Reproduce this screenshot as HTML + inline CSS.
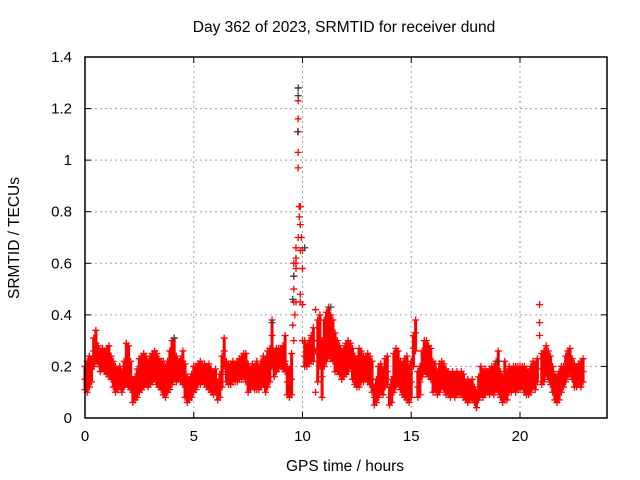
<!DOCTYPE html>
<html><head><meta charset="utf-8"><style>
html,body{margin:0;padding:0;background:#fff;}
svg{display:block;font-family:"Liberation Sans","DejaVu Sans",sans-serif;}
</style></head><body>
<svg id="chart" width="640" height="480" viewBox="0 0 640 480">
<text x="344" y="32" font-size="15.5" text-anchor="middle">Day 362 of 2023, SRMTID for receiver dund</text>
<text transform="translate(19,238) rotate(-90)" font-size="15.5" text-anchor="middle">SRMTID / TECUs</text>
<text x="345" y="471" font-size="15.5" text-anchor="middle">GPS time / hours</text>
<g id="grid"></g>
<g id="ticks"></g>
<g id="red"></g>
<g id="black"></g>
<rect x="85" y="57" width="522" height="361" fill="none" stroke="#000" stroke-width="1.5"/>
</svg>
<script>
const xTicks=[0,5,10,15,20];
const xTickLabels=["0","5","10","15","20"];
const yTicks=[0,0.2,0.4,0.6,0.8,1,1.2,1.4];
const yTickLabels=["0","0.2","0.4","0.6","0.8","1","1.2","1.4"];
const startHour=0, stepHour=0.1;
const redLo=[.11,.10,.12,.14,.20,.22,.21,.18,.19,.18,
.17,.16,.15,.12,.10,.11,.12,.10,.12,.13,
.12,.11,.06,.07,.08,.10,.11,.12,.13,.12,
.13,.14,.15,.13,.12,.11,.09,.08,.10,.11,
.13,.15,.14,.15,.14,.13,.08,.06,.07,.08,
.10,.11,.13,.13,.14,.13,.12,.11,.10,.09,
.10,.07,.08,.12,.20,.14,.13,.13,.14,.14,
.14,.15,.15,.16,.14,.10,.11,.12,.11,.11,
.11,.12,.13,.10,.12,.14,.20,.16,.18,.19,
.20,.19,.18,.09,.08,.09,.30,.45,.70,.45,
.30,.20,.20,.21,.22,.22,.10,.14,.20,.08,
.20,.22,.24,.23,.22,.18,.18,.17,.15,.16,
.17,.18,.20,.15,.13,.12,.12,.14,.14,.15,
.14,.13,.10,.05,.06,.08,.10,.09,.12,.13,
.05,.06,.10,.12,.13,.11,.09,.08,.07,.06,
.08,.20,.26,.08,.09,.16,.18,.17,.16,.15,
.10,.11,.09,.10,.12,.11,.09,.09,.08,.09,
.08,.09,.09,.09,.08,.07,.06,.07,.07,.06,
.04,.07,.09,.08,.09,.10,.09,.10,.09,.11,
.10,.08,.06,.07,.07,.10,.10,.11,.10,.11,
.11,.12,.10,.09,.09,.10,.12,.11,.14,.32,
.13,.14,.17,.15,.13,.10,.07,.06,.07,.10,
.12,.14,.16,.17,.15,.12,.12,.13,.12,.14];
const redMid=[.15,.14,.17,.19,.26,.29,.25,.22,.23,.22,
.21,.22,.19,.16,.14,.15,.15,.14,.16,.20,
.17,.15,.10,.11,.12,.15,.17,.18,.19,.17,
.18,.20,.21,.19,.17,.16,.15,.14,.16,.18,
.21,.24,.19,.18,.19,.22,.14,.10,.11,.12,
.14,.15,.17,.17,.18,.17,.16,.15,.14,.13,
.14,.10,.12,.17,.26,.18,.17,.17,.18,.17,
.18,.19,.19,.20,.21,.14,.15,.16,.15,.16,
.15,.17,.18,.15,.19,.22,.32,.21,.23,.24,
.23,.24,.22,.14,.12,.15,.45,.60,.97,.65,
.44,.24,.24,.25,.26,.30,.26,.30,.28,.16,
.28,.33,.35,.32,.30,.26,.24,.23,.21,.22,
.22,.24,.25,.21,.18,.17,.18,.20,.20,.19,
.19,.18,.15,.08,.10,.14,.15,.13,.17,.18,
.08,.10,.16,.20,.19,.16,.14,.13,.12,.10,
.14,.27,.33,.12,.14,.20,.23,.24,.22,.21,
.15,.15,.13,.15,.17,.16,.14,.13,.12,.13,
.12,.13,.12,.13,.12,.11,.10,.10,.11,.09,
.07,.11,.13,.13,.14,.14,.14,.15,.14,.16,
.18,.13,.11,.12,.12,.15,.14,.15,.15,.15,
.15,.16,.15,.14,.14,.15,.17,.16,.19,.37,
.19,.21,.24,.22,.19,.15,.12,.11,.12,.14,
.16,.19,.22,.23,.20,.17,.16,.17,.17,.18];
const redHi=[.20,.22,.24,.23,.31,.34,.28,.26,.27,.26,
.27,.28,.24,.22,.20,.19,.20,.18,.22,.29,
.28,.22,.15,.16,.19,.23,.24,.25,.24,.22,
.24,.25,.26,.25,.23,.22,.22,.20,.22,.26,
.30,.31,.24,.22,.23,.26,.21,.16,.15,.17,
.20,.20,.21,.22,.21,.21,.20,.21,.19,.18,
.19,.14,.17,.24,.31,.22,.21,.21,.22,.21,
.22,.23,.24,.25,.25,.21,.19,.21,.20,.22,
.20,.22,.24,.23,.26,.27,.38,.26,.27,.27,
.27,.28,.32,.20,.19,.25,.60,.66,1.28,.82,
.58,.30,.28,.30,.32,.35,.42,.38,.40,.30,
.38,.41,.43,.40,.38,.33,.30,.28,.26,.27,
.29,.30,.29,.27,.24,.23,.27,.26,.24,.24,
.25,.24,.22,.12,.15,.20,.21,.19,.23,.24,
.12,.15,.25,.27,.26,.22,.21,.23,.24,.20,
.22,.32,.38,.18,.20,.26,.30,.30,.28,.27,
.22,.21,.18,.21,.22,.21,.19,.18,.17,.18,
.17,.18,.17,.18,.17,.14,.15,.14,.15,.12,
.10,.16,.20,.18,.19,.18,.19,.20,.20,.22,
.26,.18,.16,.22,.18,.20,.19,.20,.20,.20,
.20,.20,.20,.19,.18,.20,.22,.21,.23,.44,
.25,.26,.28,.26,.24,.20,.17,.16,.18,.20,
.20,.24,.26,.27,.23,.21,.20,.21,.22,.23];
const peakHours=[9.8,9.8,9.8,9.8,9.85,9.85,9.9,9.7,9.7,9.6,9.6,9.95,10.0,9.65,9.55,9.9];
const peakValues=[1.23,1.16,1.11,1.03,0.82,0.78,0.75,0.62,0.58,0.50,0.55,0.70,0.65,0.40,0.36,0.48];
const blackHours=[9.8,9.8,9.78,9.6,9.55,8.6,11.3,19.0,4.1,10.1];
const blackValues=[1.28,1.25,1.11,0.55,0.46,0.37,0.43,0.22,0.31,0.66];

const X0=85,X1=607,Y0=418,Y1=57,XMAX=24,YMAX=1.4;
const sx=h=>X0+(X1-X0)*h/XMAX;
const sy=v=>Y0-(Y0-Y1)*v/YMAX;
const NS="http://www.w3.org/2000/svg";
function mk(tag,at,parent){const e=document.createElementNS(NS,tag);for(const k in at)e.setAttribute(k,at[k]);parent.appendChild(e);return e;}
const grid=document.getElementById('grid'),ticks=document.getElementById('ticks');
xTicks.forEach((t,i)=>{
  const x=sx(t);
  if(t>0){const g=mk('line',{x1:x,y1:Y0,x2:x,y2:Y1,stroke:'#a0a0a0','stroke-dasharray':'2,3'},grid);
  
  }
  mk('line',{x1:x,y1:Y0,x2:x,y2:Y0-6,stroke:'#000'},ticks);
  mk('line',{x1:x,y1:Y1,x2:x,y2:Y1+6,stroke:'#000'},ticks);
  const l=mk('text',{x:x,y:Y0+23,'font-size':15,'text-anchor':'middle'},ticks);
  l.textContent=xTickLabels[i];
  
  
});
yTicks.forEach((t,i)=>{
  const y=sy(t);
  if(t>0&&t<YMAX){const g=mk('line',{x1:X0,y1:y,x2:X1,y2:y,stroke:'#a0a0a0','stroke-dasharray':'2,3'},grid);
  
  }
  mk('line',{x1:X0,y1:y,x2:X0+6,y2:y,stroke:'#000'},ticks);
  mk('line',{x1:X1,y1:y,x2:X1-6,y2:y,stroke:'#000'},ticks);
  const l=mk('text',{x:X0-13,y:y+5,'font-size':15,'text-anchor':'end'},ticks);
  l.textContent=yTickLabels[i];
  
  
});
function plus(g,h,v,col){
  const x=sx(h),y=sy(v);
  const p=mk('path',{d:`M${x-3.5},${y}H${x+3.5}M${x},${y-3.5}V${y+3.5}`,stroke:col,'stroke-width':1.3,fill:'none'},g);
  
  
}
const red=document.getElementById('red'),black=document.getElementById('black');
// dense cluster of points between lo and hi at each time step (skip isolated spikes)
redLo.forEach((lo,i)=>{
  const h=startHour+i*stepHour, hi=redHi[i];
  if(hi-lo>0.25 || lo>0.3) return;
  const r=mk('line',{x1:sx(h),y1:sy(lo),x2:sx(h),y2:sy(hi),stroke:'#ff0000','stroke-width':3,'stroke-linecap':'butt'},red);
  
  
});
[redLo,redMid,redHi].forEach(arr=>arr.forEach((v,i)=>plus(red,startHour+i*stepHour,v,'#ff0000')));
peakHours.forEach((h,i)=>plus(red,h,peakValues[i],'#ff0000'));
blackHours.forEach((h,i)=>plus(black,h,blackValues[i],'#404040'));
</script>
</body></html>
